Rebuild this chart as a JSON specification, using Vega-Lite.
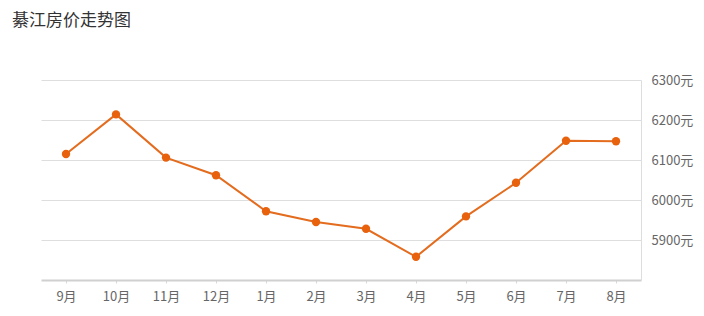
{
  "$schema": "https://vega.github.io/schema/vega-lite/v6.json",
  "width": 600,
  "height": 200,
  "autosize": {"type": "none"},
  "padding": {"left": 41, "top": 80, "right": 63, "bottom": 36},
  "background": "white",
  "title": {
    "text": "綦江房价走势图",
    "anchor": "start",
    "frame": "group",
    "dx": -29,
    "offset": 44,
    "fontSize": 17,
    "fontWeight": "normal",
    "font": "Noto Sans CJK SC",
    "color": "#333333"
  },
  "config": {
    "view": {"stroke": null},
    "font": "Noto Sans CJK SC"
  },
  "data": {
    "values": [
      {"month": "9月", "price": 6115},
      {"month": "10月", "price": 6214},
      {"month": "11月", "price": 6106},
      {"month": "12月", "price": 6062},
      {"month": "1月", "price": 5972},
      {"month": "2月", "price": 5945},
      {"month": "3月", "price": 5928},
      {"month": "4月", "price": 5858},
      {"month": "5月", "price": 5959},
      {"month": "6月", "price": 6043},
      {"month": "7月", "price": 6148},
      {"month": "8月", "price": 6147}
    ]
  },
  "encoding": {
    "x": {
      "field": "month",
      "type": "ordinal",
      "sort": null,
      "scale": {"type": "point", "padding": 0.5},
      "axis": {
        "title": null,
        "labelAngle": 0,
        "labelFontSize": 13,
        "labelColor": "#666666",
        "labelPadding": 7,
        "domainColor": "#d0d0d0",
        "domainWidth": 2,
        "tickColor": "#d8d8d8",
        "tickSize": 3,
        "grid": false
      }
    },
    "y": {
      "field": "price",
      "type": "quantitative",
      "scale": {"domain": [5800, 6300], "zero": false, "nice": false},
      "axis": {
        "orient": "right",
        "title": null,
        "values": [5900, 6000, 6100, 6200, 6300],
        "labelExpr": "datum.value + '元'",
        "labelFontSize": 13,
        "labelColor": "#666666",
        "labelPadding": 10,
        "ticks": false,
        "domainColor": "#dddddd",
        "domainWidth": 1,
        "gridColor": "#dedede",
        "gridWidth": 1
      }
    }
  },
  "layer": [
    {"mark": {"type": "line", "color": "#e36c1e", "strokeWidth": 2}},
    {"mark": {"type": "point", "filled": true, "color": "#e8620e", "size": 70, "opacity": 1}}
  ]
}
